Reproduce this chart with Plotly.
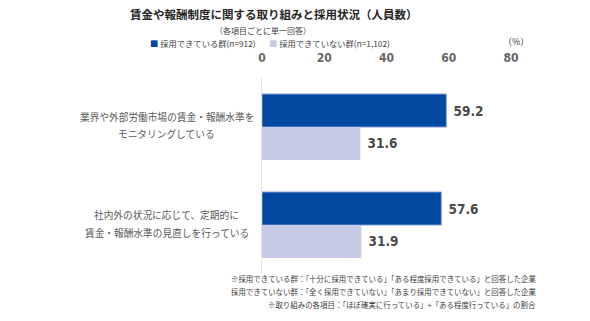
import plotly.graph_objects as go

categories = ["業界や外部労働市場の賃金・報酬水準を<br>モニタリングしている",
              "社内外の状況に応じて、定期的に<br>賃金・報酬水準の見直しを行っている"]
series_names = ["採用できている群(n=912)", "採用できていない群(n=1,102)"]
hired = [59.2, 57.6]
not_hired = [31.6, 31.9]
tick_vals = [0, 20, 40, 60, 80]
tick_text = ["0", "20", "40", "60", "80"]

title = "賃金や報酬制度に関する取り組みと採用状況（人員数）"
subtitle = "（各項目ごとに単一回答）"
unit = "（%）"
notes = ["※採用できている群：「十分に採用できている」「ある程度採用できている」と回答した企業",
         "採用できていない群：「全く採用できていない」「あまり採用できていない」と回答した企業",
         "※取り組みの各項目：「ほぼ確実に行っている」+「ある程度行っている」の割合"]

DARK = "#0048A0"
LIGHT = "#C7CBE7"
JP = "Noto Sans CJK JP"
NUM = "DejaVu Sans Condensed, Roboto"

W, H = 590, 321
ML, MR, MT, MB = 261.5, 79, 78, 46.5
pw = W - ML - MR
ph = H - MT - MB

def px_x(x):
    return (x - ML) / pw

def px_y(y):
    return 1 - (y - MT) / ph

fig = go.Figure()
fig.add_trace(go.Bar(
    y=list(range(len(categories))), x=hired, orientation="h", name=series_names[0],
    marker=dict(color=DARK, line=dict(color="#7F9BD0", width=1)),
    text=[f" {v:.1f}" for v in hired], textposition="outside",
    textfont=dict(family=NUM, size=13.5, color="#4A4A4A", weight="bold"), cliponaxis=False,
    showlegend=False))
fig.add_trace(go.Bar(
    y=list(range(len(categories))), x=not_hired, orientation="h", name=series_names[1],
    marker=dict(color=LIGHT, line=dict(width=0)),
    text=[f" {v:.1f}" for v in not_hired], textposition="outside",
    textfont=dict(family=NUM, size=13.5, color="#4A4A4A", weight="bold"), cliponaxis=False,
    showlegend=False))

def ann(text, x, y, size, color="#404040", xanchor="center", bold=False):
    return dict(text=f"<b>{text}</b>" if bold else text, x=px_x(x), y=px_y(y),
                xref="paper", yref="paper", xanchor=xanchor, yanchor="middle",
                showarrow=False, font=dict(family=JP, size=size, color=color))

annotations = [
    ann(title, 274, 14, 11.5, "#262626", bold=True),
    ann(subtitle, 263, 30, 8),
    ann(f"<span style='color:{DARK}'>■</span> {series_names[0]}", 147, 43, 8.3, xanchor="left"),
    ann(f"<span style='color:{LIGHT}'>■</span> {series_names[1]}", 267, 43, 8.3, xanchor="left"),
    ann(unit, 516, 41, 9),
]

cat_line_y = [(117, 134), (215, 233)]
for cat, ys in zip(categories, cat_line_y):
    for line, yy in zip(cat.split("<br>"), ys):
        annotations.append(ann(line, 166, yy, 9.7, "#595959"))

for line, yy in zip(notes, [279, 292, 305]):
    annotations.append(ann(line, 538, yy, 7.45, xanchor="right"))

fig.update_layout(
    width=W, height=H, margin=dict(l=ML, r=MR, t=MT, b=MB, autoexpand=False),
    paper_bgcolor="white", plot_bgcolor="white",
    barmode="group", bargap=0.327, bargroupgap=0.0,
    annotations=annotations,
    xaxis=dict(range=[0, 80], side="top", tickvals=tick_vals, ticktext=tick_text,
               showgrid=False, zeroline=False, showline=False,
               ticks="outside", ticklen=10, tickcolor="rgba(0,0,0,0)",
               tickfont=dict(family=NUM, size=12, color="#666666", weight="bold")),
    yaxis=dict(range=[1.5, -0.5], showticklabels=False, showgrid=False, zeroline=False,
               showline=True, linecolor="#E3E3E3", linewidth=1, ticks=""),
)

fig.write_html("out.html")
